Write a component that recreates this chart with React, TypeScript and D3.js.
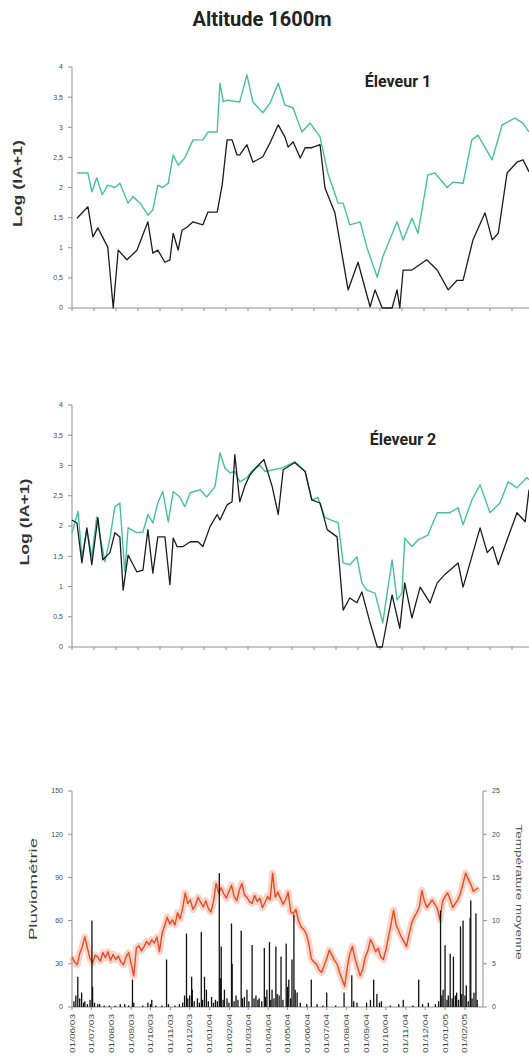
import React from "react";
import * as d3 from "d3";

const W = 529;
const H = 1057;

// Log(IA+1) axis
const logTicks = [0, 0.5, 1, 1.5, 2, 2.5, 3, 3.5, 4];
const logTickLabels = ["0", "0,5", "1", "1,5", "2", "2,5", "3", "3,5", "4"];

// Éleveur 1 : [semaine, log(IA+1)]
const e1Green: [number, number][] = [
  [0.9, 2.24], [2.9, 2.24], [3.6, 1.93], [4.5, 2.16], [5.5, 1.88], [6.5, 2.04], [7.8, 2.0], [8.7, 2.07],
  [10.2, 1.74], [11.1, 1.85], [12.4, 1.74], [13.8, 1.54], [14.7, 1.63], [15.6, 2.04], [16.5, 2.0], [17.5, 2.07],
  [18.4, 2.54], [19.3, 2.37], [20.5, 2.49], [22, 2.79], [23.8, 2.79], [24.7, 2.92], [26.4, 2.92], [26.9, 3.73],
  [27.5, 3.42], [28.2, 3.45], [30.5, 3.42], [31.8, 3.87], [32.9, 3.42], [34.7, 3.24], [36, 3.4], [37.5, 3.73],
  [38.7, 3.37], [40.2, 3.32], [41.8, 2.92], [43.3, 3.07], [45.1, 2.84], [46.5, 2.24], [48.4, 1.74], [49.3, 1.74],
  [50.5, 1.38], [52.4, 1.43], [53.6, 1.01], [55.5, 0.51], [56.5, 0.85], [59.1, 1.43], [60.2, 1.13], [61.8, 1.49],
  [62.9, 1.24], [64.7, 2.21], [66, 2.24], [68.2, 2.0], [69.3, 2.09], [71.1, 2.07], [72.7, 2.79], [73.8, 2.87],
  [76.4, 2.46], [78.2, 3.04], [80.5, 3.15], [82, 3.07], [83.1, 2.92],
];
const e1Black: [number, number][] = [
  [0.9, 1.49], [2.9, 1.68], [3.8, 1.18], [4.7, 1.33], [6.5, 1.01], [7.5, 0], [8.4, 0.96], [10, 0.8],
  [11.8, 0.96], [13.8, 1.43], [14.7, 0.91], [15.6, 0.96], [16.9, 0.76], [17.8, 0.8], [18.4, 1.24], [19.3, 0.96],
  [20, 1.29], [20.9, 1.34], [22, 1.43], [23.8, 1.38], [24.7, 1.59], [26.4, 1.59], [27.3, 2.04], [28.2, 2.79],
  [29.1, 2.79], [30, 2.54], [30.5, 2.54], [31.8, 2.71], [32.9, 2.42], [34.7, 2.51], [36, 2.74], [37.5, 3.04],
  [38.7, 2.84], [39.3, 2.67], [40.2, 2.76], [41.5, 2.49], [42.4, 2.66], [43.6, 2.66], [45.1, 2.71], [46, 1.99],
  [47.8, 1.58], [50.2, 0.3], [52, 0.76], [54.2, 0.02], [55.1, 0.3], [56.4, 0], [58.2, 0], [59.1, 0.3],
  [59.6, 0], [60.2, 0.63], [61.8, 0.63], [64.5, 0.8], [66.4, 0.63], [68.4, 0.3], [70, 0.46], [71.1, 0.46],
  [72.9, 1.13], [75.1, 1.58], [76.4, 1.13], [77.5, 1.24], [79.1, 2.24], [80.9, 2.42], [82, 2.46], [83.1, 2.26],
];

// Éleveur 2 : [semaine, log(IA+1)]
const e2Green: [number, number][] = [
  [0, 1.89], [1.1, 2.24], [1.8, 1.49], [2.7, 1.94], [3.6, 1.49], [4.5, 2.15], [5.1, 1.82], [6, 1.41],
  [6.9, 1.8], [7.8, 2.32], [8.7, 2.38], [9.6, 1.24], [10.2, 1.97], [11.8, 1.89], [12.9, 1.9], [13.8, 2.19],
  [14.7, 2.05], [15.6, 2.38], [16.5, 2.57], [17.5, 2.07], [18.4, 2.57], [19.6, 2.48], [20.5, 2.32], [21.5, 2.55],
  [23.3, 2.6], [24.5, 2.48], [26, 2.65], [26.9, 3.21], [27.8, 2.96], [28.7, 2.88], [29.6, 2.9], [30.5, 2.73],
  [31.8, 2.8], [32.9, 2.93], [34.2, 3.0], [35.1, 2.9], [38.2, 2.96], [40.5, 3.06], [42.4, 2.9], [43.6, 2.43],
  [44.7, 2.47], [46, 2.14], [48.4, 2.05], [49.3, 1.39], [50.5, 1.36], [51.8, 1.49], [52.7, 1.06], [53.6, 0.94],
  [55.1, 0.89], [56.5, 0.4], [58.2, 1.44], [59.1, 0.78], [60, 0.89], [60.5, 1.8], [61.8, 1.66], [62.9, 1.77],
  [64.7, 1.85], [66.4, 2.22], [68.7, 2.22], [70.2, 2.3], [71.1, 2.02], [72.7, 2.43], [74.2, 2.68], [76, 2.22],
  [77.8, 2.38], [79.3, 2.73], [80.9, 2.63], [82.7, 2.8], [83.1, 2.76],
];
const e2Black: [number, number][] = [
  [0, 2.1], [0.9, 2.05], [1.8, 1.39], [2.7, 1.97], [3.6, 1.36], [4.7, 2.14], [5.6, 1.44], [6.9, 1.56],
  [7.8, 1.89], [8.7, 1.82], [9.3, 0.94], [10.2, 1.52], [11.8, 1.24], [12.9, 1.27], [13.8, 1.94], [14.7, 1.22],
  [15.6, 1.82], [16.9, 1.82], [17.8, 1.03], [18.4, 1.8], [19.1, 1.66], [20.2, 1.66], [21.5, 1.74], [22.9, 1.74],
  [23.8, 1.66], [25.1, 1.99], [26.4, 2.19], [26.9, 2.1], [28.2, 2.35], [29.1, 2.4], [29.6, 3.18], [30.5, 2.4],
  [31.5, 2.68], [32.4, 2.85], [33.6, 2.98], [34.9, 3.1], [36.4, 2.65], [37.5, 2.19], [38.4, 2.93], [40.5, 3.05],
  [42.4, 2.9], [43.6, 2.43], [45.1, 2.38], [46.4, 1.94], [48.2, 1.82], [49.3, 0.61], [50.5, 0.81], [51.8, 0.73],
  [52.7, 0.91], [54.2, 0.4], [55.5, 0], [56.4, 0], [58.2, 0.86], [59.6, 0.31], [60.5, 1.06], [61.8, 0.48],
  [63.3, 0.99], [65.1, 0.73], [66.4, 1.06], [67.8, 1.2], [70.2, 1.39], [71.1, 0.99], [74.2, 1.97], [75.5, 1.56],
  [76.5, 1.66], [77.5, 1.36], [79.1, 1.77], [80.9, 2.22], [82.4, 2.07], [83.1, 2.6],
];

// Climate panel
const rainTicks = [0, 30, 60, 90, 120, 150];
const tempTicks = [0, 5, 10, 15, 20, 25];
const dateLabels = [
  "01/06/03", "01/07/03", "01/08/03", "01/09/03", "01/10/03", "01/11/03", "01/12/03",
  "01/01/04", "01/02/04", "01/03/04", "01/04/04", "01/05/04", "01/06/04", "01/07/04",
  "01/08/04", "01/09/04", "01/10/04", "01/11/04", "01/12/04", "01/01/05", "01/02/05",
];
const seriesStart = "01/06/03";
const seriesEnd = "01/03/05";

// Daily rainfall: [jour depuis le début, mm]
const rainfall: [number, number][] = [
  [3, 4], [6, 8], [9, 21], [12, 6], [15, 10], [18, 3], [20, 4], [24, 2], [28, 5], [31, 60], [32, 14], [35, 3],
  [40, 2], [43, 2], [50, 1], [58, 1], [67, 1], [75, 2], [82, 2], [88, 1], [94, 19], [96, 3], [110, 1], [118, 3],
  [122, 2], [124, 5], [130, 1], [140, 1], [147, 33], [150, 2], [160, 1], [167, 2], [172, 3], [175, 8], [178, 51],
  [180, 6], [183, 8], [186, 21], [187, 12], [190, 4], [195, 6], [198, 3], [201, 52], [203, 5], [206, 21], [209, 12],
  [212, 4], [217, 7], [220, 3], [223, 5], [226, 4], [229, 93], [231, 20], [232, 42], [235, 5], [237, 12], [241, 6],
  [244, 3], [248, 58], [249, 30], [252, 4], [255, 8], [258, 5], [263, 53], [265, 6], [268, 7], [272, 12], [275, 4],
  [280, 43], [283, 6], [286, 8], [289, 5], [291, 6], [295, 4], [299, 41], [301, 7], [303, 12], [307, 45], [309, 5],
  [311, 12], [314, 6], [317, 42], [319, 9], [322, 8], [325, 35], [328, 5], [333, 44], [335, 14], [337, 19], [340, 6],
  [342, 33], [345, 64], [347, 12], [350, 10], [355, 3], [365, 2], [372, 19], [381, 2], [390, 1], [396, 10], [410, 1],
  [423, 10], [435, 22], [438, 4], [443, 3], [458, 3], [464, 5], [469, 19], [474, 9], [478, 3], [481, 4], [495, 1],
  [508, 2], [515, 5], [530, 1], [539, 19], [545, 2], [554, 3], [565, 2], [570, 4], [573, 67], [575, 8], [577, 12],
  [580, 43], [583, 5], [585, 8], [588, 37], [591, 6], [593, 35], [596, 8], [598, 10], [601, 5], [604, 56], [606, 9],
  [608, 60], [611, 8], [613, 15], [616, 4], [619, 62], [620, 74], [622, 6], [625, 10], [628, 65], [630, 5],
];

// Mean temperature (°C), one reading every 4 days
const tempStepDays = 4;
const meanTemp = [
  5.8, 5.2, 4.9, 6.2, 7.0, 8.1, 6.8, 5.6, 5.1, 6.0,
  5.8, 5.3, 6.3, 5.7, 6.4, 5.4, 6.1, 5.5, 5.9, 5.2,
  4.9, 5.8, 6.3, 5.0, 3.6, 6.8, 7.1, 6.5, 7.0, 7.6,
  7.2, 7.8, 7.4, 8.1, 6.4, 8.5, 9.4, 10.4, 9.6, 10.1,
  9.5, 10.9, 10.2, 11.4, 13.2, 12.0, 12.4, 11.3, 11.8, 12.7,
  12.1, 11.6, 12.3, 11.4, 11.0, 12.2, 14.3, 13.2, 13.8, 13.1,
  12.6, 13.4, 14.1, 12.8, 12.3, 13.5, 14.3, 13.0, 12.7, 12.2,
  12.0, 12.9, 12.2, 12.6, 11.5, 12.1, 12.8, 12.4, 15.5, 12.7,
  13.3, 12.6, 11.9, 12.4, 13.3, 11.0, 10.8, 11.3, 10.0, 9.3,
  9.0, 8.5, 7.4, 5.6, 5.2, 5.0, 4.3, 4.0, 4.8, 5.6,
  6.6, 6.0, 5.4, 5.0, 4.0, 3.2, 2.4, 4.6, 6.2, 7.0,
  5.6, 4.6, 3.6, 4.4, 5.8, 6.5, 7.8, 7.2, 6.4, 6.8,
  5.8, 5.5, 6.6, 8.1, 9.6, 11.2, 9.5, 8.8, 8.1, 7.6,
  7.0, 8.4, 9.7, 10.4, 10.9, 11.6, 13.5, 12.2, 11.5, 12.0,
  12.4, 11.9, 11.4, 10.1, 12.2, 12.8, 13.2, 12.4, 11.5, 12.0,
  12.4, 13.2, 14.3, 15.5, 14.8, 14.2, 13.4, 13.6, 13.8,
];

const AXIS = "#8f8f8f";
const TICK_TXT = "#4a4a4a";
const GREEN = "#45c29d";
const BLACK = "#1c1c1c";
const FONT = "Arial, 'Liberation Sans', sans-serif";
const TITLE_FONT = "Roboto, 'Noto Sans', sans-serif";

const xWeek = d3.scaleLinear().domain([0, 84]).range([72, 534]);
const weekTicks = d3.range(0, 85, 4);

type PanelProps = {
  top: number;
  bottom: number;
  green: [number, number][];
  black: [number, number][];
  name: string;
  nameX: number;
  nameY: number;
  yTitleX: number;
};

function LogPanel({ top, bottom, green, black, name, nameX, nameY, yTitleX }: PanelProps) {
  const y = d3.scaleLinear().domain([0, 4]).range([bottom, top]);
  const line = d3
    .line<[number, number]>()
    .x((d) => xWeek(d[0]))
    .y((d) => y(d[1]));
  const x0 = xWeek(0);
  const midY = (top + bottom) / 2;
  return (
    <g>
      {/* y axis */}
      <line x1={x0} x2={x0} y1={top} y2={bottom} stroke={AXIS} strokeWidth={1} />
      {logTicks.map((t, i) => (
        <g key={t}>
          <line x1={x0 - 4} x2={x0} y1={y(t)} y2={y(t)} stroke={AXIS} />
          <text x={x0 - 9} y={y(t)} dy="0.35em" textAnchor="end" fontSize={7} fill={TICK_TXT} fontFamily={FONT}>
            {logTickLabels[i]}
          </text>
        </g>
      ))}
      {/* x axis */}
      <line x1={x0} x2={W} y1={bottom} y2={bottom} stroke={AXIS} strokeWidth={1} />
      {weekTicks.map((w) => (
        <line key={w} x1={xWeek(w)} x2={xWeek(w)} y1={bottom} y2={bottom + 3} stroke={AXIS} />
      ))}
      <path d={line(green) || ""} fill="none" stroke={GREEN} strokeWidth={1.4} strokeLinejoin="round" />
      <path d={line(black) || ""} fill="none" stroke={BLACK} strokeWidth={1.3} strokeLinejoin="round" />
      <text
        transform={`translate(${yTitleX},${midY - 4}) rotate(-90)`}
        textAnchor="middle"
        dominantBaseline="central"
        fontSize={12}
        fontWeight="bold"
        fill="#333"
        fontFamily={FONT}
        textLength={87}
        lengthAdjust="spacingAndGlyphs"
      >
        Log (IA+1)
      </text>
      <text x={nameX} y={nameY} textAnchor="middle" fontSize={16} fontWeight={700} fill="#222" fontFamily={TITLE_FONT}>
        {name}
      </text>
    </g>
  );
}

function ClimatePanel() {
  const parse = d3.timeParse("%d/%m/%y");
  const start = parse(seriesStart) as Date;
  const end = parse(seriesEnd) as Date;
  const top = 791;
  const bottom = 1007;
  const left = 72;
  const right = 483;
  const x = d3.scaleTime().domain([start, end]).range([left, right]);
  const yRain = d3.scaleLinear().domain([0, 150]).range([bottom, top]);
  const yTemp = d3.scaleLinear().domain([0, 25]).range([bottom, top]);
  const dayX = (day: number) => x(d3.timeDay.offset(start, day));
  const tempLine = d3
    .line<number>()
    .x((_, i) => dayX(i * tempStepDays))
    .y((d) => yTemp(d));
  const tPath = tempLine(meanTemp) || "";
  return (
    <g>
      <line x1={left} x2={left} y1={top} y2={bottom} stroke={AXIS} />
      <line x1={right} x2={right} y1={top} y2={bottom} stroke={AXIS} />
      <line x1={left} x2={right} y1={bottom} y2={bottom} stroke={AXIS} />
      {rainTicks.map((t) => (
        <g key={`r${t}`}>
          <line x1={left - 4} x2={left} y1={yRain(t)} y2={yRain(t)} stroke={AXIS} />
          <text x={left - 9} y={yRain(t)} dy="0.35em" textAnchor="end" fontSize={7} fill={TICK_TXT} fontFamily={FONT}>
            {t}
          </text>
        </g>
      ))}
      {tempTicks.map((t) => (
        <g key={`t${t}`}>
          <line x1={right} x2={right + 4} y1={yTemp(t)} y2={yTemp(t)} stroke={AXIS} />
          <text x={right + 9} y={yTemp(t)} dy="0.35em" textAnchor="start" fontSize={7} fill={TICK_TXT} fontFamily={FONT}>
            {t}
          </text>
        </g>
      ))}
      {/* temperature */}
      <path d={tPath} fill="none" stroke="#f4a088" strokeOpacity={0.45} strokeWidth={7} strokeLinejoin="round" />
      <path d={tPath} fill="none" stroke="#e84b25" strokeWidth={1.4} strokeLinejoin="round" />
      {/* rainfall */}
      {rainfall.map(([day, mm]) => (
        <rect
          key={day}
          x={dayX(day) - 0.65}
          width={1.3}
          y={yRain(mm)}
          height={bottom - yRain(mm)}
          fill="#111"
        />
      ))}
      {/* date labels */}
      {dateLabels.map((lab) => {
        const px = x(parse(lab) as Date);
        return (
          <g key={lab}>
            <line x1={px} x2={px} y1={bottom} y2={bottom + 3} stroke={AXIS} />
            <text
              transform={`translate(${px},${bottom + 7}) rotate(-90)`}
              textAnchor="end"
              dominantBaseline="central"
              fontSize={7.5}
              fill={TICK_TXT}
              fontFamily={FONT}
              textLength={39}
              lengthAdjust="spacingAndGlyphs"
            >
              {lab}
            </text>
          </g>
        );
      })}
      <text
        transform={`translate(33,889) rotate(-90)`}
        textAnchor="middle"
        dominantBaseline="central"
        fontSize={11}
        fill="#3a3a3a"
        fontFamily={FONT}
        textLength={102}
        lengthAdjust="spacingAndGlyphs"
      >
        Pluviométrie
      </text>
      <text
        transform={`translate(519,892) rotate(90)`}
        textAnchor="middle"
        dominantBaseline="central"
        fontSize={9}
        fill="#555"
        fontFamily={FONT}
        textLength={135}
        lengthAdjust="spacingAndGlyphs"
      >
        Température moyenne
      </text>
    </g>
  );
}

export default function App() {
  return (
    <svg
      width={W}
      height={H}
      viewBox={`0 0 ${W} ${H}`}
      style={{ position: "absolute", left: 0, top: 0, background: "#fff" }}
    >
      <rect width={W} height={H} fill="#fff" />
      <text x={262} y={26} textAnchor="middle" fontSize={20} fontWeight={700} fill="#222" fontFamily={TITLE_FONT}>
        Altitude 1600m
      </text>
      <LogPanel top={67} bottom={308} green={e1Green} black={e1Black} name="Éleveur 1" nameX={398} nameY={87} yTitleX={18} />
      <LogPanel top={405} bottom={647} green={e2Green} black={e2Black} name="Éleveur 2" nameX={403} nameY={445} yTitleX={25} />
      <ClimatePanel />
    </svg>
  );
}
